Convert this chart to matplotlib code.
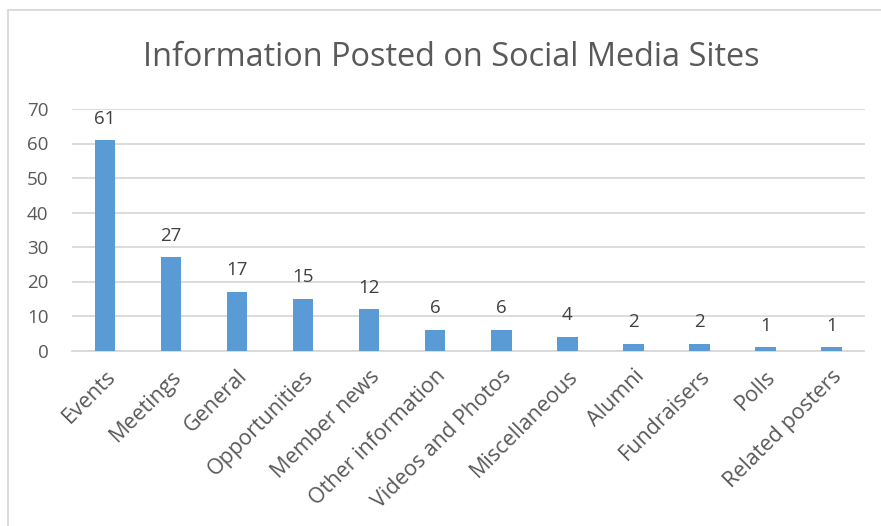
import matplotlib
matplotlib.use("Agg")
import matplotlib.pyplot as plt
from matplotlib.lines import Line2D

categories = ["Events", "Meetings", "General", "Opportunities", "Member news",
              "Other information", "Videos and Photos", "Miscellaneous", "Alumni",
              "Fundraisers", "Polls", "Related posters"]
values = [61, 27, 17, 15, 12, 6, 6, 4, 2, 2, 1, 1]
yticks = [0, 10, 20, 30, 40, 50, 60, 70]
title = "Information Posted on Social Media Sites"

plt.rcParams['font.family'] = ['Open Sans', 'DejaVu Sans']

W, H = 881, 526
fig = plt.figure(figsize=(W / 100, H / 100), dpi=100)
ax = fig.add_axes([72 / W, 1 - 350.5 / H, (864.5 - 72) / W, (350.5 - 109) / H])

x = list(range(len(categories)))
ax.bar(x, values, width=0.31, color="#5B9BD5", zorder=3)
ax.set_xlim(-0.5, len(categories) - 0.5)
ax.set_ylim(0, 70)
ax.set_yticks(yticks)
ax.set_yticklabels([str(t) for t in yticks], fontsize=13.5, color="#595959")
ax.yaxis.grid(True, color="#D9D9D9", linewidth=1.3, zorder=0)
for s in ["top", "right", "left"]:
    ax.spines[s].set_visible(False)
ax.spines["bottom"].set_color("#D9D9D9")
ax.spines["bottom"].set_linewidth(1.3)
ax.tick_params(axis="both", length=0)
ax.tick_params(axis="y", pad=17)
ax.set_xticks(x)
ax.set_xticklabels(categories, rotation=45, ha="right", va="top",
                   rotation_mode="anchor", fontsize=15.5, color="#595959")
ax.tick_params(axis="x", pad=11)

for xi, v in zip(x, values):
    ax.annotate(str(v), (xi, v), xytext=(0, 9), textcoords="offset points",
                ha="center", va="bottom", fontsize=13.5, color="#404040")

fig.text(451 / W, 1 - 58 / H, title, ha="center", va="center",
         fontsize=23.4, color="#595959")

# chart border (top and left visible)
fig.add_artist(Line2D([8 / W, 8 / W], [0, 1 - 10 / H], transform=fig.transFigure,
                      color="#D9D9D9", linewidth=1.3))
fig.add_artist(Line2D([8 / W, 1], [1 - 10 / H, 1 - 10 / H], transform=fig.transFigure,
                      color="#D9D9D9", linewidth=1.3))

fig.savefig("out.png", dpi=100, facecolor="white")
